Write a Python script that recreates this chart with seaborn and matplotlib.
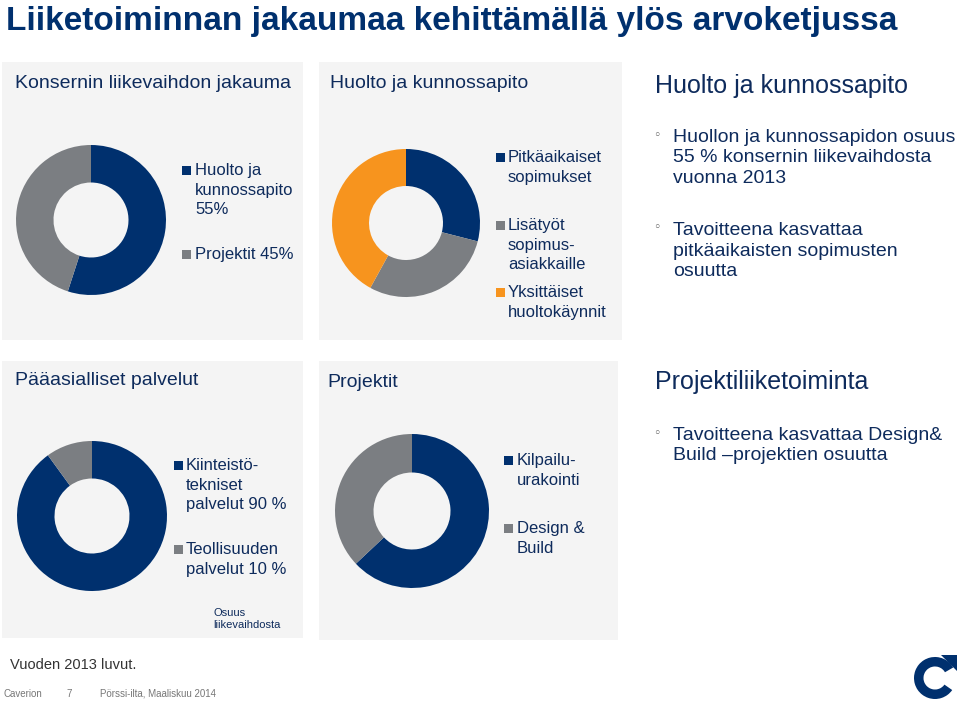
import matplotlib
matplotlib.use("Agg")
import matplotlib.pyplot as plt
import matplotlib.patches as mpatches
import seaborn as sns

# ---------------- data ----------------
title = "Liiketoiminnan jakaumaa kehittämällä ylös arvoketjussa"

group_labels = ["Huolto ja\nkunnossapito\n55%", "Projektit 45%"]
group_share = [55, 45]

service_labels = ["Pitkäaikaiset\nsopimukset", "Lisätyöt\nsopimus-\nasiakkaille",
                  "Yksittäiset\nhuoltokäynnit"]
service_share = [29, 29, 42]

main_labels = ["Kiinteistö-\ntekniset\npalvelut 90 %", "Teollisuuden\npalvelut 10 %"]
main_share = [90, 10]

project_labels = ["Kilpailu-\nurakointi", "Design &\nBuild"]
project_share = [63, 37]

bullets_top = ["Huollon ja kunnossapidon osuus\n55 % konsernin liikevaihdosta\nvuonna 2013",
               "Tavoitteena kasvattaa\npitkäaikaisten sopimusten\nosuutta"]
bullets_bottom = ["Tavoitteena kasvattaa Design&\nBuild \u2013projektien osuutta"]

# ---------------- style ----------------
sns.set_theme(style="white")
plt.rcParams["font.family"] = ["Liberation Sans", "DejaVu Sans"]

NAVY = "#00306e"
GRAY = "#7b7e82"
ORANGE = "#f7941e"
TXT = "#0e2b5c"
PANEL = "#f4f4f4"
palette2 = sns.color_palette([NAVY, GRAY])
palette3 = sns.color_palette([NAVY, GRAY, ORANGE])

W, H = 960, 701
fig = plt.figure(figsize=(W / 100, H / 100), dpi=100)
bg = fig.add_axes([0, 0, 1, 1])
bg.set_xlim(0, W)
bg.set_ylim(H, 0)
bg.axis("off")

# panels
for (x0, y0, x1, y1) in [(2, 62, 303, 340), (319, 62, 622, 340),
                         (2, 361, 303, 638), (319, 361, 618, 640)]:
    bg.add_patch(mpatches.Rectangle((x0, y0), x1 - x0, y1 - y0, color=PANEL, lw=0, zorder=0))

# title
bg.text(6, 30, title, fontsize=24, fontweight="bold", color=NAVY,
        va="baseline", ha="left")

def lines(x, y0, text, step, size, color=TXT):
    for i, ln in enumerate(text.split("\n")):
        bg.text(x, y0 + i * step, ln, fontsize=size, color=color, va="baseline", ha="left")

# panel headers
lines(15, 88, "Konsernin liikevaihdon jakauma", 20, 14)
lines(330, 88, "Huolto ja kunnossapito", 20, 14)
lines(15, 385, "Pääasialliset palvelut", 20, 14)
lines(327, 387, "Projektit", 20, 14)
lines(655, 93, "Huolto ja kunnossapito", 20, 18)
lines(655, 389, "Projektiliiketoiminta", 20, 18)

# donuts
def donut(cx, cy, r, values, colors):
    ax = fig.add_axes([(cx - r) / W, 1 - (cy + r) / H, 2 * r / W, 2 * r / H])
    ax.pie(values, colors=colors, startangle=90, counterclock=False,
           wedgeprops=dict(width=0.5, linewidth=0))
    ax.set_xlim(-1, 1)
    ax.set_ylim(-1, 1)
    ax.set_aspect("equal")
    ax.axis("off")

donut(91, 220, 75, group_share, palette2)
donut(406, 223, 74, service_share, palette3)
donut(92, 516, 75, main_share, palette2)
donut(412, 511, 77, project_share, palette2)

# legends
def legend(sq_x, tx, baselines, labels, colors, step=19.6, size=12):
    for b, lab, c in zip(baselines, labels, colors):
        bg.add_patch(mpatches.Rectangle((sq_x, b - 9.5), 9, 9, color=c, lw=0))
        lines(tx, b, lab, step, size)

legend(182, 195, [175, 259], group_labels, palette2)
legend(496, 508, [162, 230, 297], service_labels, palette3)
legend(174, 186, [470, 554], main_labels, palette2)
legend(504, 517, [465, 533], project_labels, palette2)

lines(213, 616, "Osuus\nliikevaihdosta", 11.5, 8)

# bullets
def bullet_block(y_first, text):
    bg.text(657, y_first - 7, "\u25e6", fontsize=9, color="#555555", ha="center", va="center",
            family=["DejaVu Sans"])
    lines(673, y_first, text, 20.5, 14)

bullet_block(142, bullets_top[0])
bullet_block(235, bullets_top[1])
bullet_block(440, bullets_bottom[0])

# footer
bg.text(10, 669, "Vuoden 2013 luvut.", fontsize=10.5, color="#333333", va="baseline")
bg.text(3, 697, "Caverion", fontsize=7, color="#777777", va="baseline")
bg.text(66, 697, "7", fontsize=7, color="#777777", va="baseline")
bg.text(100, 697, "Pörssi-ilta, Maaliskuu 2014", fontsize=7, color="#777777", va="baseline")

# logo
bg.add_patch(mpatches.Wedge((935, 678), 21, 35, 330, width=9.5, color=NAVY, lw=0))
bg.add_patch(mpatches.Polygon([[941, 655], [957, 655], [957, 671]], closed=True, color=NAVY, lw=0))

fig.savefig("out.png", dpi=100)
